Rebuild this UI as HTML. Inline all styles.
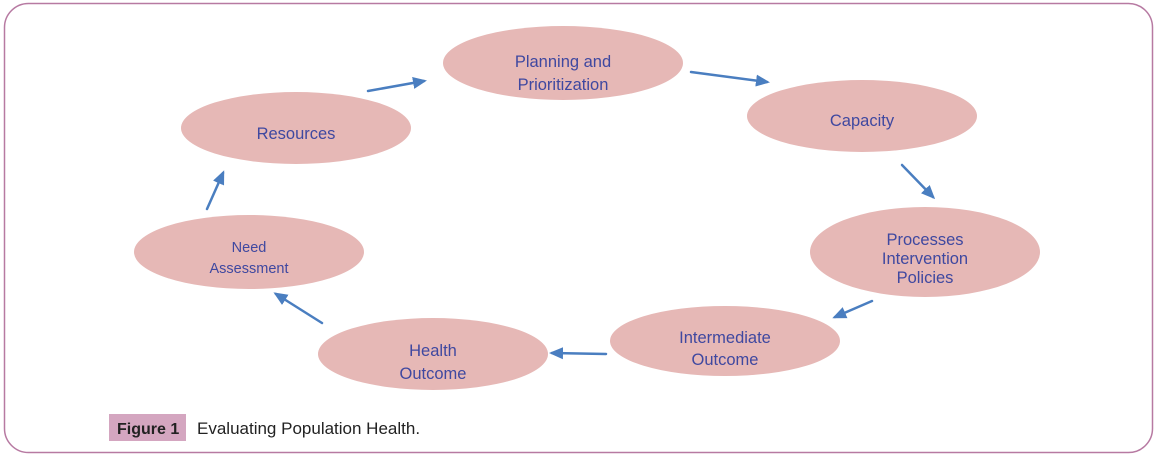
<!DOCTYPE html>
<html><head><meta charset="utf-8"><style>
html,body{margin:0;padding:0;background:#fff;}
svg{display:block;font-family:"Liberation Sans",sans-serif;}
</style></head><body>
<svg width="1156" height="459" viewBox="0 0 1156 459">
<defs><marker id="a" markerWidth="14" markerHeight="14" refX="11" refY="7" orient="auto" markerUnits="userSpaceOnUse"><path d="M0,1 L14,7 L0,13 Z" fill="#4a7ec0"/></marker></defs>
<rect x="4.5" y="3.5" width="1148" height="449" rx="24" fill="none" stroke="#b77aa2" stroke-width="1.5"/>
<g fill="#e6b8b6">
<ellipse cx="563" cy="63" rx="120" ry="37"/>
<ellipse cx="862" cy="116" rx="115" ry="36"/>
<ellipse cx="925" cy="252" rx="115" ry="45"/>
<ellipse cx="725" cy="341" rx="115" ry="35"/>
<ellipse cx="433" cy="354" rx="115" ry="36"/>
<ellipse cx="249" cy="252" rx="115" ry="37"/>
<ellipse cx="296" cy="128" rx="115" ry="36"/>
</g>
<g fill="#3f48a0" font-size="16.5" text-anchor="middle">
<text x="563" y="67">Planning and</text><text x="563" y="90">Prioritization</text>
<text x="862" y="126">Capacity</text>
<text x="925" y="245">Processes</text><text x="925" y="264">Intervention</text><text x="925" y="283">Policies</text>
<text x="725" y="343">Intermediate</text><text x="725" y="365">Outcome</text>
<text x="433" y="356">Health</text><text x="433" y="379">Outcome</text>
<text x="249" y="252" font-size="14.5">Need</text><text x="249" y="273" font-size="14.5">Assessment</text>
<text x="296" y="139">Resources</text>
</g>
<g stroke="#4a7ec0" stroke-width="2.5" stroke-linecap="round" marker-end="url(#a)">
<line x1="368" y1="91" x2="424" y2="81"/>
<line x1="691" y1="72" x2="767" y2="82"/>
<line x1="902" y1="165" x2="933" y2="197"/>
<line x1="872" y1="301" x2="835" y2="317"/>
<line x1="606" y1="354" x2="552" y2="353"/>
<line x1="322" y1="323" x2="276" y2="294"/>
<line x1="207" y1="209" x2="223" y2="173"/>
</g>
<rect x="109" y="414" width="77" height="27" fill="#d4a6c0"/>
<text x="117" y="434" font-size="16" font-weight="bold" fill="#222">Figure 1</text>
<text x="197" y="434" font-size="17" fill="#222">Evaluating Population Health.</text>
</svg>
</body></html>
